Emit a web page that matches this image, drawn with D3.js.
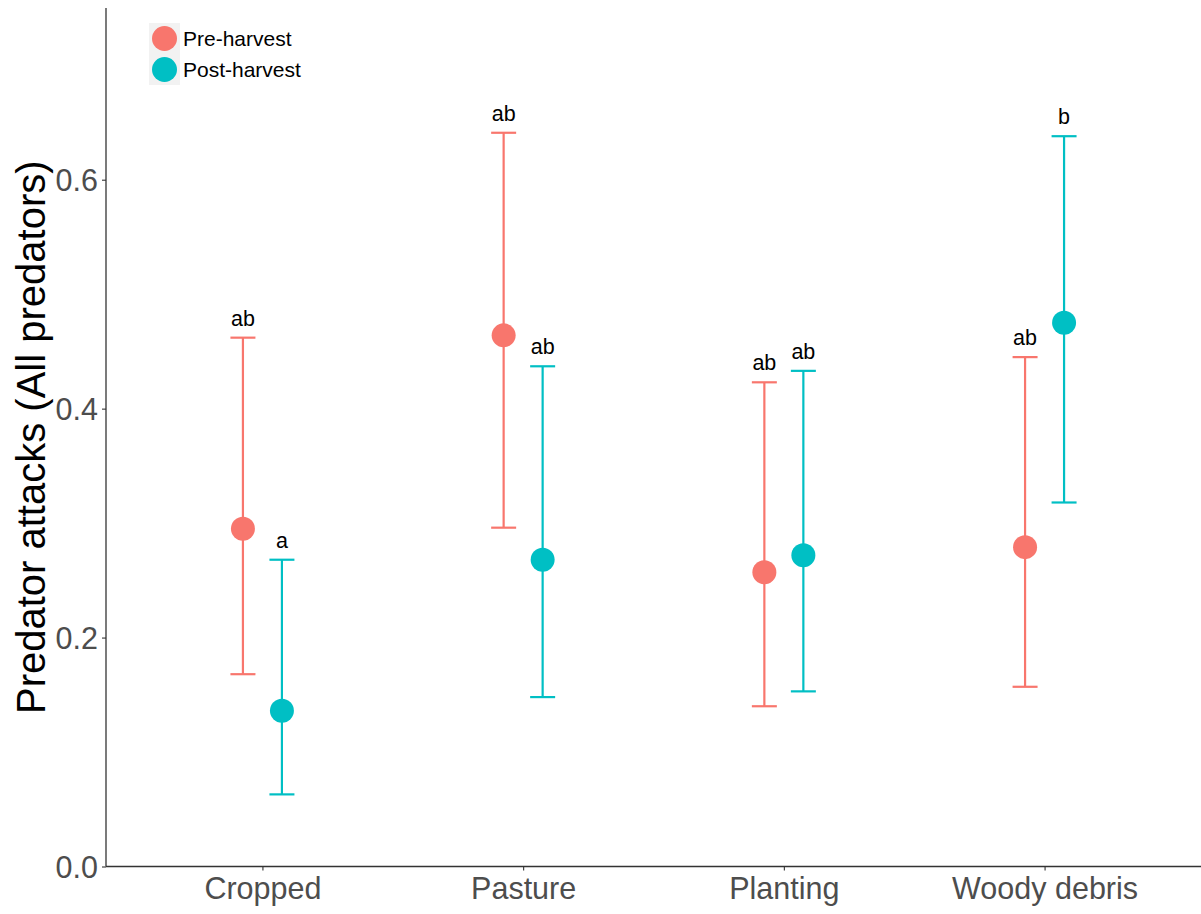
<!DOCTYPE html>
<html>
<head>
<meta charset="utf-8">
<script src="https://cdn.jsdelivr.net/npm/d3@7"></script>
<style>
  html, body { margin: 0; padding: 0; background: #ffffff; }
  svg { display: block; font-family: "Liberation Sans", Arial, sans-serif; }
</style>
</head>
<body>
<svg id="chart" width="1201" height="914"></svg>
<script>
// Habitat categories and harvest periods
const habitats = ["Cropped", "Pasture", "Planting", "Woody debris"];
const periods = ["Pre-harvest", "Post-harvest"];
const periodColors = ["#F8766D", "#00BFC4"];

// Mean predator attack rates with lower / upper interval bounds
const preMean  = [0.295, 0.464, 0.257, 0.279];
const preLow   = [0.168, 0.296, 0.140, 0.157];
const preHigh  = [0.462, 0.641, 0.423, 0.445];
const postMean = [0.136, 0.268, 0.272, 0.475];
const postLow  = [0.063, 0.148, 0.153, 0.318];
const postHigh = [0.268, 0.437, 0.433, 0.638];

// Significance group letters
const preLetters  = ["ab", "ab", "ab", "ab"];
const postLetters = ["a", "ab", "ab", "b"];

const yTicks = [0.0, 0.2, 0.4, 0.6];

const rows = [];
habitats.forEach((h, i) => {
  rows.push({ habitat: h, period: periods[0], mean: preMean[i], low: preLow[i], high: preHigh[i], letter: preLetters[i] });
  rows.push({ habitat: h, period: periods[1], mean: postMean[i], low: postLow[i], high: postHigh[i], letter: postLetters[i] });
});

const svg = d3.select("#chart");
const plotLeft = 106, plotRight = 1201, plotTop = 8, plotBottom = 866.5;

const x = d3.scalePoint().domain(habitats).range([plotLeft, plotRight]).padding(0.6);
const dodge = d3.scalePoint().domain(periods).range([-19.5, 19.5]);
const color = d3.scaleOrdinal().domain(periods).range(periodColors);
const y = d3.scaleLinear().domain([0, 0.75]).range([plotBottom, plotTop]);

// Axes
const yAxis = svg.append("g")
  .attr("transform", `translate(${plotLeft},0)`)
  .call(d3.axisLeft(y).tickValues(yTicks).tickFormat(d3.format(".1f")).tickSize(4).tickPadding(4));
const xAxis = svg.append("g")
  .attr("transform", `translate(0,${plotBottom})`)
  .call(d3.axisBottom(x).tickSize(4).tickPadding(4));

[yAxis, xAxis].forEach(g => {
  g.select(".domain").attr("stroke", "#333333").attr("stroke-width", 1.3);
  g.selectAll(".tick line").attr("stroke", "#333333").attr("stroke-width", 1.1);
  g.selectAll(".tick text").attr("fill", "#4D4D4D").attr("font-size", 30.5);
});
yAxis.select(".domain").attr("d", `M0,${plotTop}V${plotBottom}`);
xAxis.select(".domain").attr("d", `M${plotLeft},0H${plotRight}`);
xAxis.selectAll(".tick text").attr("dy", "0.8em");
yAxis.selectAll(".tick text").attr("dy", "0.36em");

// Y axis title
svg.append("text")
  .attr("transform", `translate(45,${(plotTop + plotBottom) / 2}) rotate(-90)`)
  .attr("text-anchor", "middle")
  .attr("font-size", 40)
  .attr("fill", "#000000")
  .text("Predator attacks (All predators)");

const px = d => x(d.habitat) + dodge(d.period);
const capHalf = 12.5;

const marks = svg.append("g");

// Error bars
const bars = marks.selectAll("g.bar").data(rows).join("g").attr("class", "bar")
  .attr("stroke", d => color(d.period)).attr("stroke-width", 2.2);
bars.append("line")
  .attr("x1", px).attr("x2", px)
  .attr("y1", d => y(d.low)).attr("y2", d => y(d.high));
bars.append("line")
  .attr("x1", d => px(d) - capHalf).attr("x2", d => px(d) + capHalf)
  .attr("y1", d => y(d.high)).attr("y2", d => y(d.high));
bars.append("line")
  .attr("x1", d => px(d) - capHalf).attr("x2", d => px(d) + capHalf)
  .attr("y1", d => y(d.low)).attr("y2", d => y(d.low));

// Mean points
marks.selectAll("circle.pt").data(rows).join("circle").attr("class", "pt")
  .attr("cx", px).attr("cy", d => y(d.mean)).attr("r", 12)
  .attr("fill", d => color(d.period));

// Group letters above the upper bound
marks.selectAll("text.letter").data(rows).join("text").attr("class", "letter")
  .attr("x", px).attr("y", d => y(d.high) - 12)
  .attr("text-anchor", "middle")
  .attr("font-size", 21.5)
  .attr("fill", "#000000")
  .text(d => d.letter);

// Legend
const legend = svg.append("g").attr("transform", "translate(149,23)");
const keyW = 31, keyH = 31;
periods.forEach((p, i) => {
  const g = legend.append("g").attr("transform", `translate(0,${i * keyH})`);
  g.append("rect").attr("width", keyW).attr("height", keyH).attr("fill", "#F2F2F2");
  g.append("circle").attr("cx", keyW / 2).attr("cy", keyH / 2).attr("r", 12.5).attr("fill", color(p));
  g.append("text").attr("x", keyW + 3).attr("y", keyH / 2).attr("dy", "0.36em")
    .attr("font-size", 21).attr("fill", "#000000").text(p);
});
</script>
</body>
</html>
